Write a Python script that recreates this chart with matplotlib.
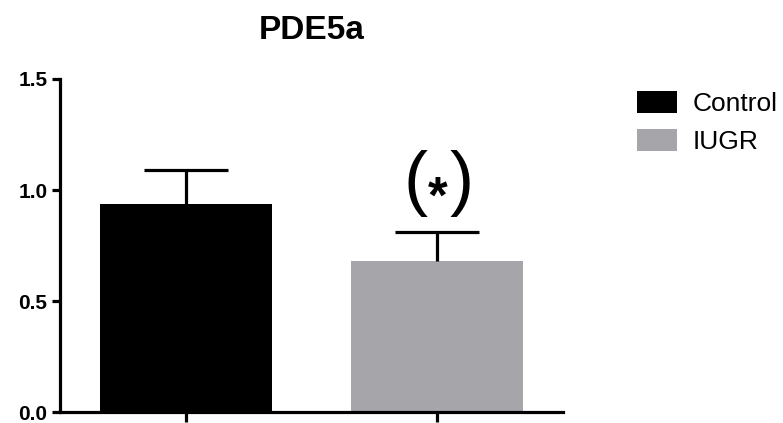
import matplotlib
matplotlib.use("Agg")
import matplotlib.pyplot as plt
from matplotlib.patches import Patch

categories = ["Control", "IUGR"]
means = [0.938, 0.681]
sem_upper = [0.153, 0.128]
colors = ["#000000", "#a6a5a9"]
yticks = [0.0, 0.5, 1.0, 1.5]
title = "PDE5a"
annotation = r"$(_{\mathbf{*}})$"

plt.rcParams['font.family'] = ['Liberation Sans', 'DejaVu Sans']
plt.rcParams['mathtext.fontset'] = 'custom'
plt.rcParams['mathtext.rm'] = 'Liberation Sans'
plt.rcParams['mathtext.it'] = 'Liberation Sans'
plt.rcParams['mathtext.bf'] = 'Liberation Sans:bold'

fig = plt.figure(figsize=(7.83, 4.23), dpi=100)
ax = fig.add_axes([60/783, 11/423, (563-60)/783, (412-79)/423])

x = list(range(len(categories)))
ax.bar(x, means, width=0.685, color=colors, edgecolor='none', zorder=2)
_, caps, _ = ax.errorbar(x, means, yerr=[[0, 0], sem_upper], fmt='none', ecolor='black',
                         elinewidth=2.3, capsize=30, capthick=2.3, zorder=3)
caps[0].set_visible(False)

ax.set_xlim(-0.5, 1.5)
ax.set_ylim(0, 1.5)
ax.set_xticks(x)
ax.set_xticklabels([])
ax.set_yticks(yticks)
ax.set_yticklabels([f"{v:.1f}" for v in yticks], fontsize=15, fontweight='bold')
for s in ['top', 'right']:
    ax.spines[s].set_visible(False)
for s in ['left', 'bottom']:
    ax.spines[s].set_linewidth(2.3)
ax.tick_params(axis='y', direction='out', length=6, width=2.3, pad=3)
ax.tick_params(axis='x', direction='out', length=7, width=2.3)

ax.text(1, 0.945, annotation, ha='center', va='baseline', fontsize=52)

fig.text((60+563)/2/783, 1-39/423, title, ha='center', va='baseline',
         fontsize=24, fontweight='bold')

handles = [Patch(facecolor=c, edgecolor='none') for c in colors]
fig.legend(handles, categories, loc='upper left',
           bbox_to_anchor=(637/783, 1-91/423), frameon=False,
           fontsize=19, handlelength=1.5, handleheight=0.9,
           handletextpad=0.6, borderpad=0, borderaxespad=0, labelspacing=0.5)

fig.savefig("out.png", dpi=100)
